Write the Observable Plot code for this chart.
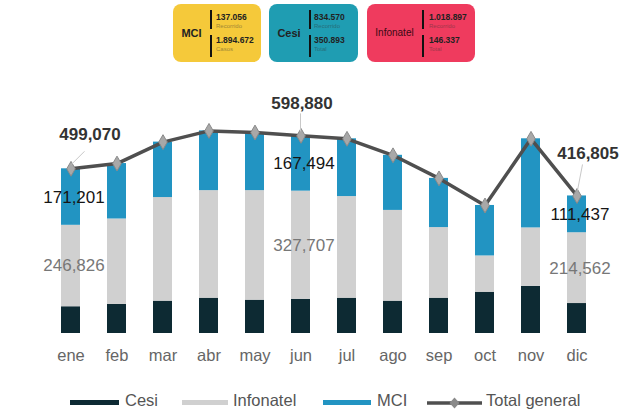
<!DOCTYPE html>
<html><head><meta charset="utf-8">
<script src="https://cdn.jsdelivr.net/npm/d3@7"></script>
<script src="https://cdn.jsdelivr.net/npm/@observablehq/plot@0.6"></script>
<style>
body{margin:0;background:#fff;font-family:"Liberation Sans",Arial,sans-serif;}
#wrap{position:relative;width:632px;height:409px;overflow:hidden;background:#fff;}
.box{position:absolute;top:4px;height:58px;border-radius:8px;}
.bname{position:absolute;top:0;left:0;height:58px;line-height:58px;text-align:center;font-size:11px;font-weight:bold;color:#222;}
.bar{position:absolute;width:2px;background:#111;}
.num{position:absolute;font-size:8.5px;font-weight:bold;color:#222;white-space:nowrap;}
.sub{position:absolute;font-size:6px;white-space:nowrap;opacity:.45;color:#333;}
#chart{position:absolute;left:0;top:66px;}
.lg{position:absolute;font-size:16.5px;color:#555;top:391px;line-height:18px;white-space:nowrap;}
.sw{position:absolute;height:5px;top:400px;}
</style></head>
<body><div id="wrap"><div id="header"></div><div id="chart"></div><div id="legend"></div></div>
<script>
// ---- data ----
const months = ["ene","feb","mar","abr","may","jun","jul","ago","sep","oct","nov","dic"];
const series = ["Cesi","Infonatel","MCI"];
const cesi      = [81043, 88000, 98000, 107000, 101000, 103679, 107000, 98000, 107000, 125000, 143000, 90806];
const infonatel = [246826, 259000, 314000, 326000, 332000, 327707, 308000, 275000, 214000, 110000, 177000, 214562];
const mci       = [171201, 168000, 168000, 181000, 176000, 167494, 175000, 167000, 149000, 153000, 270000, 111437];
const total     = [499070, 515000, 580000, 614000, 609000, 598880, 590000, 540000, 470000, 388000, 590000, 416805];
const labeledMonths = ["ene","jun","dic"];
const boxNames = ["MCI","Cesi","Infonatel"];
const boxTop = ["137.056","834.570","1.018.897"];
const boxBottom = ["1.894.672","350.893","146.337"];
const boxTopLabel = ["Recorrido","Recorrido","Recorrido"];
const boxBottomLabel = ["Casos","Total","Total"];
const legendLabels = ["Cesi","Infonatel","MCI","Total general"];

// ---- styles ----
const colors = ["#0d2a33","#d0d0d0","#2294c2"];
const boxColors = ["#f5c93a","#1f9db2","#ef3b5e"];
const boxGeom = [{l:173,w:88,d:37,n:43},{l:269,w:89,d:40,n:45},{l:367,w:108,d:55,n:62}];

// header boxes
const header = document.getElementById("header");
boxNames.forEach((name,i)=>{
  const g = boxGeom[i];
  const b = document.createElement("div");
  b.className="box"; b.style.left=g.l+"px"; b.style.width=g.w+"px"; b.style.background=boxColors[i];
  b.innerHTML = `<div class="bname" style="width:${g.d}px;${i===2?'font-weight:normal;font-size:10px;color:#3a0a14;':''}">${name}</div>
   <div class="bar" style="left:${g.d}px;top:6px;height:19px"></div>
   <div class="bar" style="left:${g.d}px;top:31px;height:22px"></div>
   <div class="num" style="left:${g.n}px;top:8px">${boxTop[i]}</div>
   <div class="sub" style="left:${g.n}px;top:19px">${boxTopLabel[i]}</div>
   <div class="num" style="left:${g.n}px;top:31px">${boxBottom[i]}</div>
   <div class="sub" style="left:${g.n}px;top:42px">${boxBottomLabel[i]}</div>`;
  header.appendChild(b);
});

// chart
const data = months.flatMap((m,i)=>[
  {month:m, series:"Cesi", value:cesi[i]},
  {month:m, series:"Infonatel", value:infonatel[i]},
  {month:m, series:"MCI", value:mci[i]}
]);
const totals = months.map((m,i)=>({month:m, total:total[i]}));
const fmt = d3.format(",");
const totalLabel = (m, dx, dy) => Plot.text(totals.filter(d=>d.month===m), {
  x:"month", y:"total", text:d=>fmt(d.total), dx, dy, fontWeight:"bold", fontSize:17, fill:"#333"});

const plot = Plot.plot({
  width:632, height:320, marginTop:36, marginBottom:53, marginLeft:30, marginRight:16,
  style:{fontFamily:"Liberation Sans, Arial, sans-serif", fontSize:"16.5px", color:"#666", background:"transparent"},
  x:{domain:months, padding:0.59, tickSize:0, tickPadding:16, label:null},
  y:{domain:[0,700000], axis:null},
  color:{domain:series, range:colors},
  marks:[
    Plot.barY(data, Plot.stackY({x:"month", y:"value", fill:"series", order:series})),
    Plot.text(data, Plot.stackY({x:"month", y:"value", z:"series", order:series,
      text:d=> d.series==="MCI" && labeledMonths.includes(d.month) ? fmt(d.value) : "",
      fill:"#161616", fontSize:17, dx:3})),
    Plot.text(data, Plot.stackY({x:"month", y:"value", z:"series", order:series,
      text:d=> d.series==="Infonatel" && labeledMonths.includes(d.month) ? fmt(d.value) : "",
      fill:"#777", fontSize:17, dx:3})),
    Plot.line(totals, {x:"month", y:"total", stroke:"#4f4f4f", strokeWidth:3.5}),
    Plot.dot(totals, {x:"month", y:"total", symbol:"diamond", r:4.5, fill:"#a8a8a8", stroke:"#8a8a8a", strokeWidth:1}),
    totalLabel("ene", 19, -34),
    totalLabel("jun", 1, -32),
    totalLabel("dic", 11, -42)
  ]
});
document.getElementById("chart").appendChild(plot);

// leader lines, positioned with the plot's own scales
const sx = plot.scale("x"), sy = plot.scale("y");
const leaders = {ene:[1,-4,14,-17], jun:[0,-4,0,-22], dic:[1,-5,6,-31]};
const svg = d3.select(plot);
totals.filter(d=>leaders[d.month]).forEach(d=>{
  const cx = sx.apply(d.month) + sx.bandwidth/2, cy = sy.apply(d.total);
  const [a,b,c,e] = leaders[d.month];
  svg.append("line").attr("x1",cx+a).attr("y1",cy+b).attr("x2",cx+c).attr("y2",cy+e)
    .attr("stroke","#c8c8c8").attr("stroke-width",1);
});

// legend
const legend = document.getElementById("legend");
const lgGeom = [{s:70,w:49,t:125},{s:182,w:46,t:233},{s:323,w:48,t:377},{s:427,w:55,t:486}];
legendLabels.forEach((lab,i)=>{
  const g = lgGeom[i];
  if (i<3) {
    const s = document.createElement("div"); s.className="sw";
    s.style.left=g.s+"px"; s.style.width=g.w+"px"; s.style.background=colors[i];
    legend.appendChild(s);
  } else {
    const s = document.createElementNS("http://www.w3.org/2000/svg","svg");
    s.setAttribute("width",g.w); s.setAttribute("height",14);
    s.style.position="absolute"; s.style.left=g.s+"px"; s.style.top="395.5px";
    s.innerHTML = `<line x1="0" y1="7" x2="${g.w}" y2="7" stroke="#4f4f4f" stroke-width="3.5"/>
      <path d="M${g.w/2},1.5L${g.w/2+5},7L${g.w/2},12.5L${g.w/2-5},7Z" fill="#8a8a8a"/>`;
    legend.appendChild(s);
  }
  const t = document.createElement("div"); t.className="lg"; t.style.left=g.t+"px"; t.textContent=lab;
  legend.appendChild(t);
});
</script></body></html>
